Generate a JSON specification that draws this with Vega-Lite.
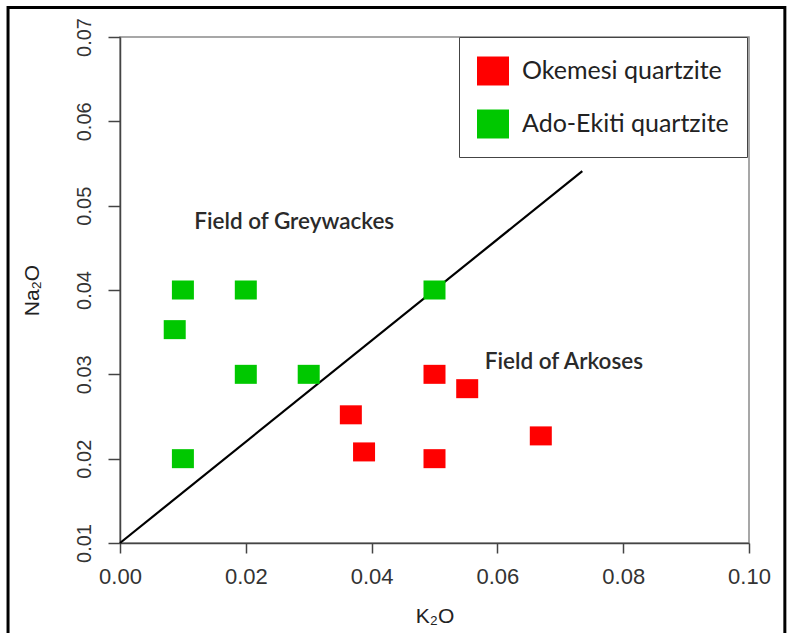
{
  "$schema": "https://vega.github.io/schema/vega-lite/v6.json",
  "width": 629,
  "height": 506,
  "autosize": "none",
  "padding": {"left": 120, "top": 37, "right": 38, "bottom": 90},
  "background": "white",
  "datasets": {
    "samples": [
      {"k2o": 0.0367, "na2o": 0.0252, "rock": "Okemesi quartzite"},
      {"k2o": 0.0388, "na2o": 0.0208, "rock": "Okemesi quartzite"},
      {"k2o": 0.05, "na2o": 0.03, "rock": "Okemesi quartzite"},
      {"k2o": 0.0552, "na2o": 0.0283, "rock": "Okemesi quartzite"},
      {"k2o": 0.0669, "na2o": 0.0227, "rock": "Okemesi quartzite"},
      {"k2o": 0.05, "na2o": 0.02, "rock": "Okemesi quartzite"},
      {"k2o": 0.01, "na2o": 0.04, "rock": "Ado-Ekiti quartzite"},
      {"k2o": 0.02, "na2o": 0.04, "rock": "Ado-Ekiti quartzite"},
      {"k2o": 0.0087, "na2o": 0.0353, "rock": "Ado-Ekiti quartzite"},
      {"k2o": 0.02, "na2o": 0.03, "rock": "Ado-Ekiti quartzite"},
      {"k2o": 0.03, "na2o": 0.03, "rock": "Ado-Ekiti quartzite"},
      {"k2o": 0.01, "na2o": 0.02, "rock": "Ado-Ekiti quartzite"},
      {"k2o": 0.05, "na2o": 0.04, "rock": "Ado-Ekiti quartzite"}
    ],
    "divider": [
      {"k2o": 0.0, "na2o": 0.01},
      {"k2o": 0.0735, "na2o": 0.0541}
    ],
    "fields": [
      {"k2o": 0.0118, "na2o": 0.0481, "label": "Field of Greywackes"},
      {"k2o": 0.058, "na2o": 0.0315, "label": "Field of Arkoses"}
    ]
  },
  "config": {
    "view": {"stroke": "#8a8a8a", "strokeWidth": 1.5},
    "axis": {
      "grid": false,
      "labelFont": "Liberation Sans",
      "titleFont": "Liberation Sans",
      "labelColor": "#333333",
      "titleColor": "#222222",
      "domainColor": "#444444",
      "tickColor": "#444444",
      "domainWidth": 1.5,
      "tickWidth": 1.5,
      "titleFontWeight": "normal",
      "labelOverlap": false,
      "labelFlush": false,
      "labelBound": false
    }
  },
  "layer": [
    {
      "data": {"values": [{}]},
      "mark": {"type": "rect", "fill": "transparent", "stroke": "black", "strokeWidth": 3, "clip": false},
      "encoding": {
        "x": {"datum": -0.0178, "type": "quantitative", "scale": {"domain": [0, 0.1], "nice": false, "zero": false}, "title": "K₂O"},
        "x2": {"datum": 0.1057},
        "y": {"datum": 0.0735, "type": "quantitative", "scale": {"domain": [0.01, 0.07], "nice": false, "zero": false}, "title": "Na₂O"},
        "y2": {"datum": -0.0021}
      }
    },
    {
      "data": {"name": "divider"},
      "mark": {"type": "line", "color": "black", "strokeWidth": 2.2},
      "encoding": {
        "x": {"field": "k2o", "type": "quantitative", "scale": {"domain": [0, 0.1], "nice": false, "zero": false}, "title": "K₂O"},
        "y": {"field": "na2o", "type": "quantitative", "scale": {"domain": [0.01, 0.07], "nice": false, "zero": false}, "title": "Na₂O"}
      }
    },
    {
      "data": {"name": "fields"},
      "mark": {"type": "text", "align": "left", "baseline": "middle", "font": "Lato", "fontSize": 22.5, "fontWeight": 600, "color": "#2a2a2a"},
      "encoding": {
        "x": {"field": "k2o", "type": "quantitative", "scale": {"domain": [0, 0.1], "nice": false, "zero": false}, "title": "K₂O"},
        "y": {"field": "na2o", "type": "quantitative", "scale": {"domain": [0.01, 0.07], "nice": false, "zero": false}, "title": "Na₂O"},
        "text": {"field": "label"}
      }
    },
    {
      "data": {"name": "samples"},
      "mark": {"type": "point", "shape": "M-1,-0.864H1V0.864H-1Z", "filled": true, "opacity": 1, "size": 484, "strokeWidth": 0},
      "encoding": {
        "x": {
          "field": "k2o", "type": "quantitative",
          "scale": {"domain": [0, 0.1], "nice": false, "zero": false},
          "title": "K₂O",
          "axis": {"values": [0, 0.02, 0.04, 0.06, 0.08, 0.1], "format": ".2f", "labelFontSize": 22, "tickSize": 10, "labelPadding": 13, "titleFontSize": 21, "titlePadding": 18}
        },
        "y": {
          "field": "na2o", "type": "quantitative",
          "scale": {"domain": [0.01, 0.07], "nice": false, "zero": false},
          "title": "Na₂O",
          "axis": {"values": [0.01, 0.02, 0.03, 0.04, 0.05, 0.06, 0.07], "format": ".2f", "labelFontSize": 20, "labelAngle": -90, "labelAlign": "center", "labelBaseline": "bottom", "tickSize": 12, "labelPadding": 14, "titleFontSize": 21, "titlePadding": 32}
        },
        "color": {
          "field": "rock", "type": "nominal",
          "scale": {"domain": ["Okemesi quartzite", "Ado-Ekiti quartzite"], "range": ["#ff0000", "#00c800"]},
          "legend": {
            "title": null,
            "orient": "none",
            "legendX": 339,
            "legendY": 0,
            "direction": "vertical",
            "symbolType": "M-1,-0.906H1V0.906H-1Z",
            "symbolSize": 1024,
            "symbolStrokeWidth": 0,
            "labelFont": "Lato",
            "labelFontSize": 25,
            "labelColor": "#222222",
            "labelOffset": 13,
            "labelLimit": 400,
            "rowPadding": 22,
            "padding": 18,
            "strokeColor": "#444444",
            "fillColor": "white",
            "encode": {
              "symbols": {"update": {"fill": [{"test": "datum.value === 'Okemesi quartzite'", "value": "#ff2200"}, {"value": "#00f000"}], "stroke": {"value": "transparent"}}}
            }
          }
        }
      }
    }
  ]
}
